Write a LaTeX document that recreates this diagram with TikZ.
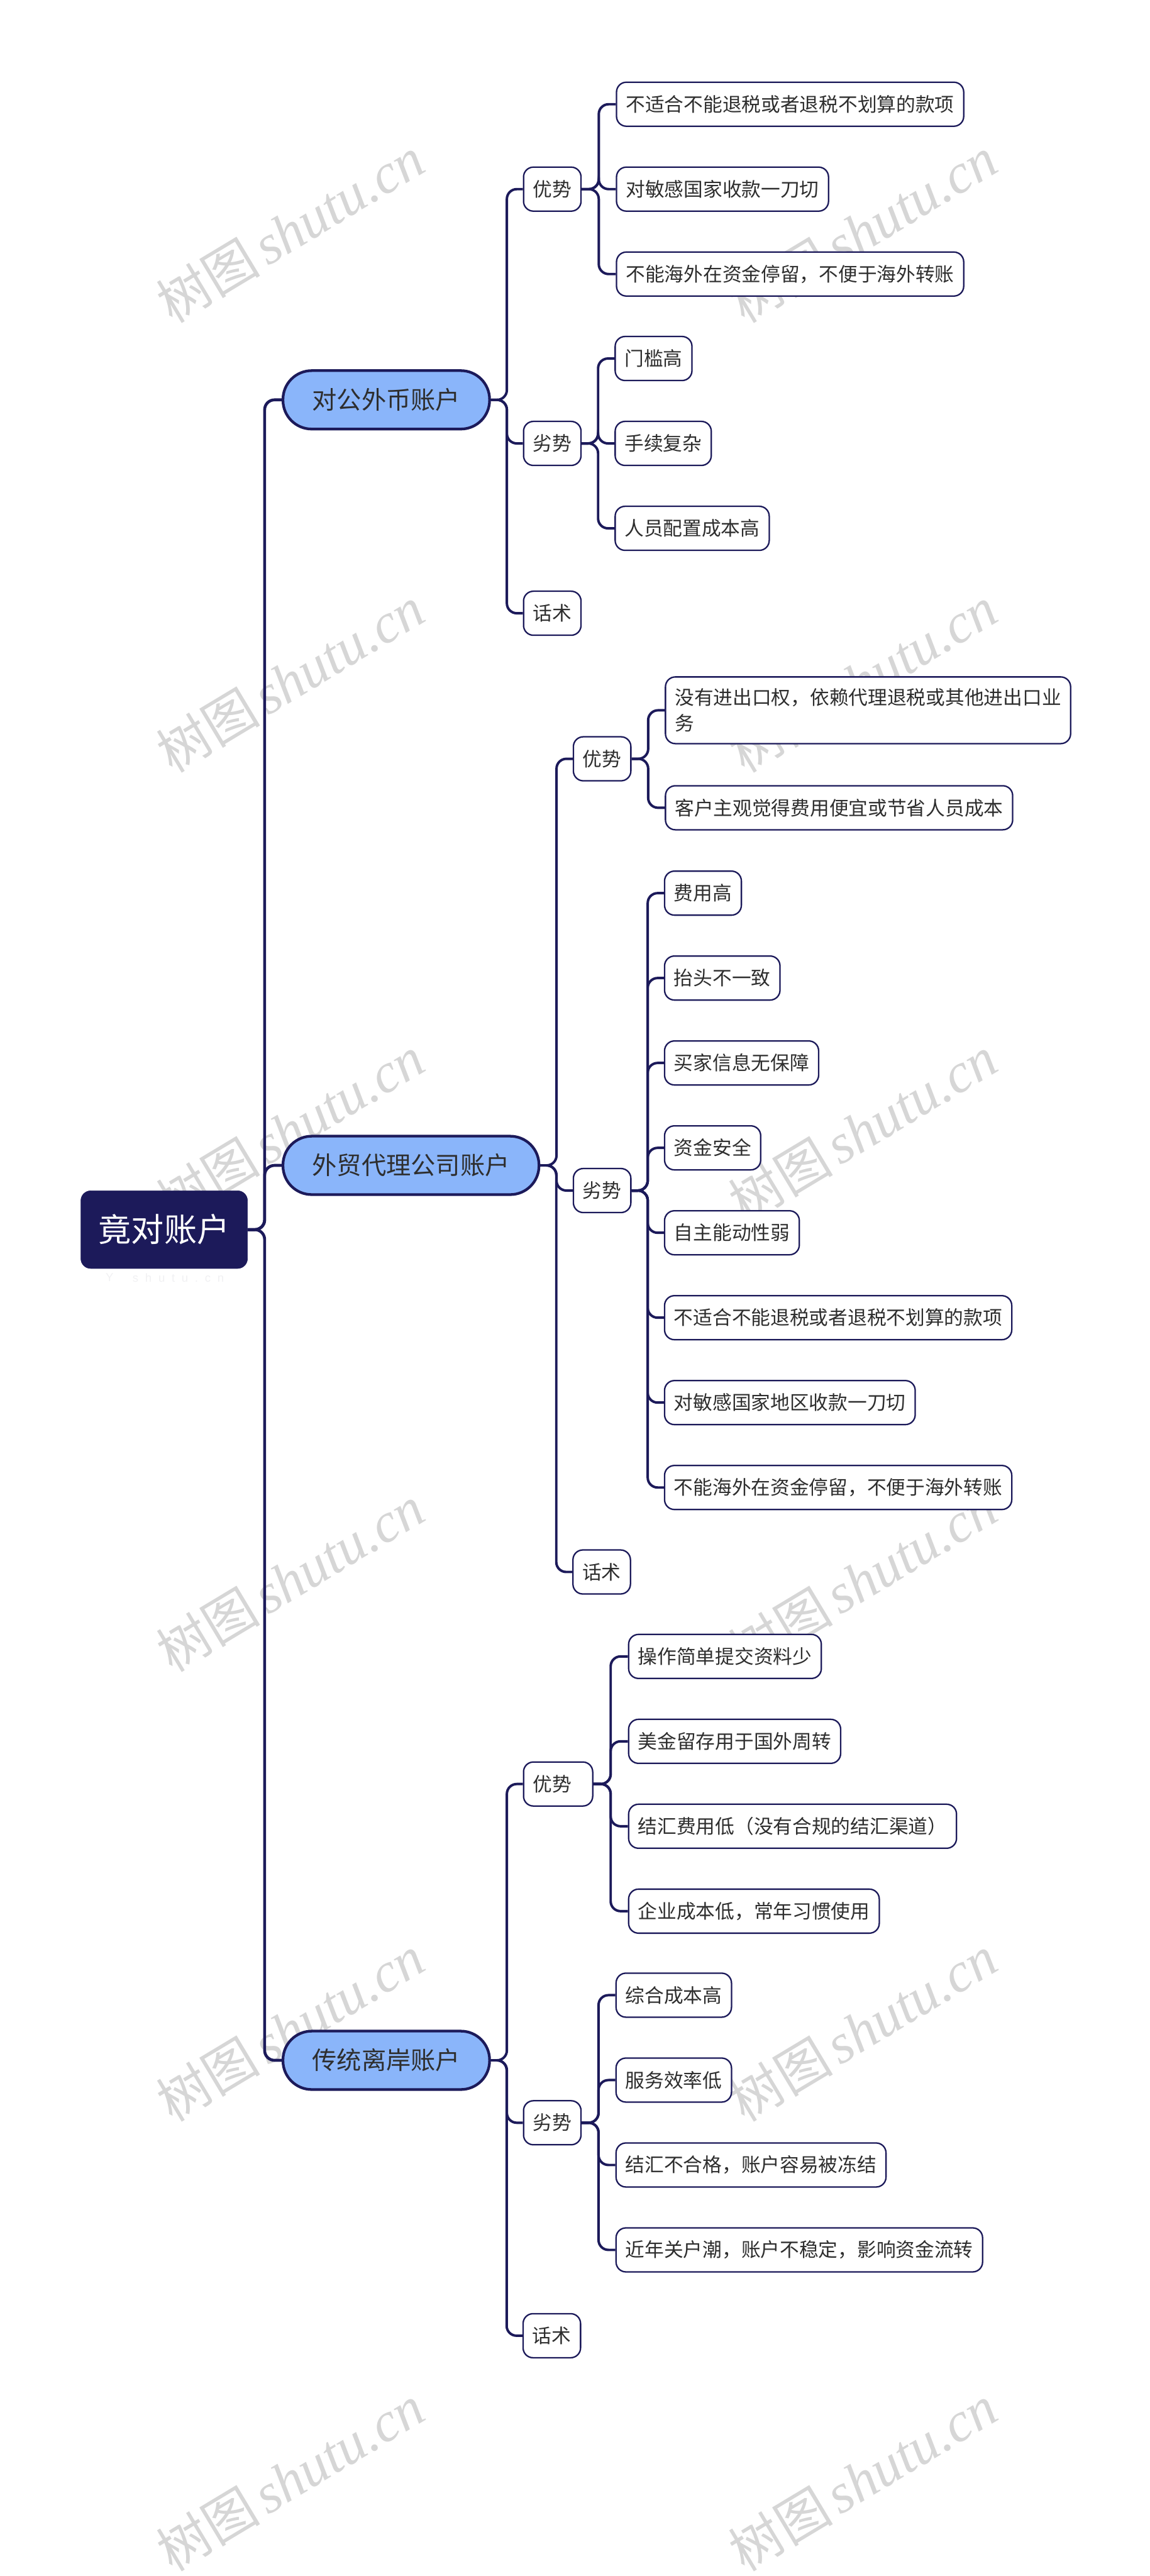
\documentclass[tikz,border=0pt]{standalone}
\usepackage{fontspec}
\newfontfamily\cjk{Noto Sans CJK SC}
\newfontfamily\wmlat{Liberation Serif}
\newfontfamily\wmsans{Liberation Sans}
\usetikzlibrary{calc}
\definecolor{navy}{HTML}{1C1A5A}
\definecolor{lblue}{HTML}{8AB5FA}
\definecolor{wmgray}{HTML}{D6D6D6}
\definecolor{faint}{HTML}{F1F1F3}
\definecolor{txt}{HTML}{2E2E2E}
\pgfdeclarelayer{wmk}
\pgfdeclarelayer{bg}
\pgfsetlayers{wmk,bg,main}
\tikzset{
  rootbox/.style={fill=navy, draw=navy, rounded corners=11pt, minimum width=185.5pt,
    minimum height=86.5pt, inner sep=0pt, text=white,
    font=\cjk\fontsize{36.5pt}{44pt}\selectfont},
  lvone/.style={fill=lblue, draw=navy, line width=3pt, rounded corners=32pt,
    minimum height=65pt, inner xsep=32.5pt, inner ysep=0pt, text=txt, anchor=west,
    font=\cjk\fontsize{27.5pt}{33pt}\selectfont},
  lvtwo/.style={fill=white, draw=navy, line width=1.6pt, rounded corners=11pt,
    minimum height=49pt, inner xsep=10.5pt, inner ysep=0pt, text=txt, anchor=west,
    font=\cjk\fontsize{21.5pt}{28.5pt}\selectfont},
  leaf/.style={lvtwo, align=left, inner ysep=13pt},
  conn/.style={draw=navy, line width=2.75pt, rounded corners=11pt},
  trunk/.style={conn, line width=3.25pt},
  wmark/.style={text=wmgray, rotate=31, inner sep=0pt}
}
\newcommand\link[3][conn]{\draw[#1] let \p1=(#2.east), \p2=(#3.west) in
  (\p1) -- ({0.5*\x1+0.5*\x2},\y1) |- (\p2);}
\newcommand\wmtext{{\cjk\fontsize{58pt}{60pt}\selectfont 树图}\hspace{8pt}{\wmlat\itshape\fontsize{62pt}{64pt}\selectfont shutu.cn}}
\begin{document}
\begin{tikzpicture}[x=0.5pt,y=-0.5pt]
\begin{pgfonlayer}{wmk}
  \fill[white] (0,0) rectangle (2560,5431);
  \foreach \yy [count=\i] in {512,1513,2514,3515,4516,5517}{
    \node[wmark] (wl\i) at (646,\yy) {\wmtext};
    \node[wmark] (wr\i) at (1921,\yy) {\wmtext};
  }
  \node[text=faint, font=\wmsans\fontsize{13pt}{14pt}\selectfont, inner sep=0pt] (fy) at (244,2843) {Y};
  \node[text=faint, font=\wmsans\fontsize{13pt}{14pt}\selectfont, inner sep=0pt] (fs) at (397,2845)
    {s\hspace{7.5pt}h\hspace{7.5pt}u\hspace{7.5pt}t\hspace{7.5pt}u\hspace{7.5pt}.\hspace{7.5pt}c\hspace{7.5pt}n};
\end{pgfonlayer}
\useasboundingbox (0,0) rectangle (2560,5431);

% root
\node[rootbox] (root) at (365.5,2737) {竟对账户};

% level one
\node[lvone] (b1) at (627,890) {对公外币账户};
\node[lvone] (b2) at (627,2594) {外贸代理公司账户};
\node[lvone] (b3) at (627,4586) {传统离岸账户};

% branch 1
\node[lvtwo] (b1a) at (1164,421) {优势};
\node[lvtwo] (b1b) at (1164,987) {劣势};
\node[lvtwo] (b1c) at (1164,1365) {话术};
\node[leaf] (b1a1) at (1371,232) {不适合不能退税或者退税不划算的款项};
\node[leaf] (b1a2) at (1371,421) {对敏感国家收款一刀切};
\node[leaf] (b1a3) at (1371,610) {不能海外在资金停留，不便于海外转账};
\node[leaf] (b1b1) at (1368,798) {门槛高};
\node[leaf] (b1b2) at (1368,987) {手续复杂};
\node[leaf] (b1b3) at (1368,1176) {人员配置成本高};

% branch 2
\node[lvtwo] (b2a) at (1275,1689) {优势};
\node[lvtwo] (b2b) at (1275,2650) {劣势};
\node[lvtwo] (b2c) at (1274,3499) {话术};
\node[leaf] (b2a1) at (1480,1581) {没有进出口权，依赖代理退税或其他进出口业\\务};
\node[leaf] (b2a2) at (1480,1798) {客户主观觉得费用便宜或节省人员成本};
\node[leaf] (b2b1) at (1478,1988) {费用高};
\node[leaf] (b2b2) at (1478,2177) {抬头不一致};
\node[leaf] (b2b3) at (1478,2366) {买家信息无保障};
\node[leaf] (b2b4) at (1478,2555) {资金安全};
\node[leaf] (b2b5) at (1478,2744) {自主能动性弱};
\node[leaf] (b2b6) at (1478,2933) {不适合不能退税或者退税不划算的款项};
\node[leaf] (b2b7) at (1478,3122) {对敏感国家地区收款一刀切};
\node[leaf] (b2b8) at (1478,3311) {不能海外在资金停留，不便于海外转账};

% branch 3
\node[lvtwo, minimum width=77pt, align=left, text width=56pt] (b3a) at (1164,3971) {优势};
\node[lvtwo] (b3b) at (1164,4725) {劣势};
\node[lvtwo] (b3c) at (1163,5199) {话术};
\node[leaf] (b3a1) at (1398,3687) {操作简单提交资料少};
\node[leaf] (b3a2) at (1398,3876) {美金留存用于国外周转};
\node[leaf] (b3a3) at (1398,4065) {结汇费用低（没有合规的结汇渠道）};
\node[leaf] (b3a4) at (1398,4254) {企业成本低，常年习惯使用};
\node[leaf] (b3b1) at (1370,4441) {综合成本高};
\node[leaf] (b3b2) at (1370,4630) {服务效率低};
\node[leaf] (b3b3) at (1370,4819) {结汇不合格，账户容易被冻结};
\node[leaf] (b3b4) at (1370,5008) {近年关户潮，账户不稳定，影响资金流转};

\begin{pgfonlayer}{bg}
  \foreach \c in {b1,b2,b3} {\link[trunk]{root}{\c}}
  \foreach \c in {b1a,b1b,b1c} {\link{b1}{\c}}
  \foreach \c in {b1a1,b1a2,b1a3} {\link{b1a}{\c}}
  \foreach \c in {b1b1,b1b2,b1b3} {\link{b1b}{\c}}
  \foreach \c in {b2a,b2b,b2c} {\link{b2}{\c}}
  \foreach \c in {b2a1,b2a2} {\link{b2a}{\c}}
  \foreach \c in {b2b1,b2b2,b2b3,b2b4,b2b5,b2b6,b2b7,b2b8} {\link{b2b}{\c}}
  \foreach \c in {b3a,b3b,b3c} {\link{b3}{\c}}
  \foreach \c in {b3a1,b3a2,b3a3,b3a4} {\link{b3a}{\c}}
  \foreach \c in {b3b1,b3b2,b3b3,b3b4} {\link{b3b}{\c}}
\end{pgfonlayer}
\end{tikzpicture}
\end{document}
